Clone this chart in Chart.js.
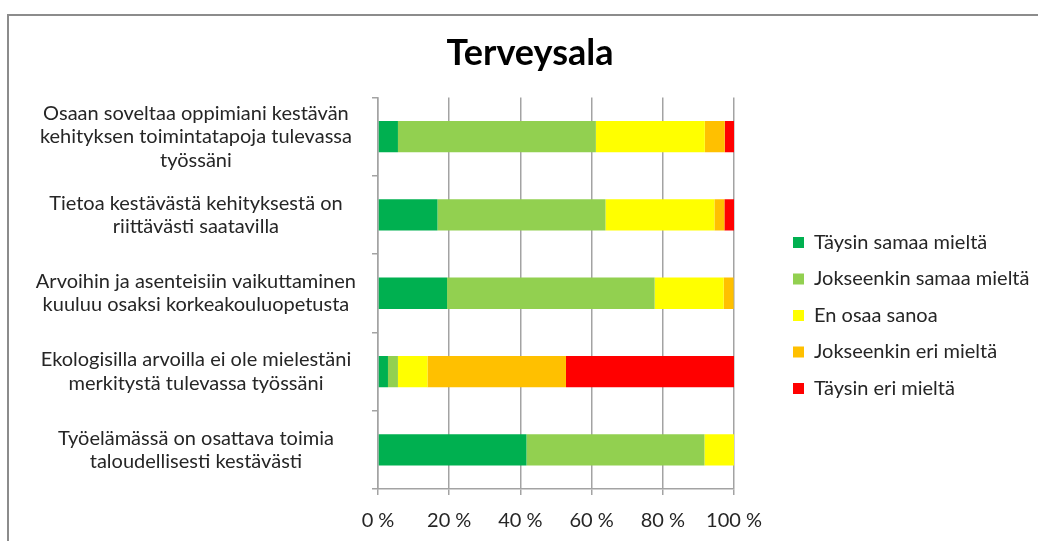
<!DOCTYPE html>
<html><head><meta charset="utf-8">
<script src="https://cdn.jsdelivr.net/npm/chart.js@4"></script>
<style>
html,body{margin:0;padding:0;background:#fff;}
#wrap{position:relative;width:1038px;height:541px;overflow:hidden;}
#frame{position:absolute;left:7px;top:14px;width:1100px;height:600px;border-left:2px solid #8c8c8c;border-top:2px solid #8c8c8c;}
canvas{position:absolute;left:0;top:0;}
</style></head><body>
<div id="wrap"><div id="frame"></div><canvas id="c" width="1038" height="541"></canvas></div>
<script>
const categories = [
  ['Osaan soveltaa oppimiani kestävän', 'kehityksen toimintatapoja tulevassa', 'työssäni'],
  ['Tietoa kestävästä kehityksestä on', 'riittävästi saatavilla'],
  ['Arvoihin ja asenteisiin vaikuttaminen', 'kuuluu osaksi korkeakouluopetusta'],
  ['Ekologisilla arvoilla ei ole mielestäni', 'merkitystä tulevassa työssäni'],
  ['Työelämässä on osattava toimia', 'taloudellisesti kestävästi']
];
const seriesNames = ['Täysin samaa mieltä', 'Jokseenkin samaa mieltä', 'En osaa sanoa', 'Jokseenkin eri mieltä', 'Täysin eri mieltä'];
const taysinSamaa     = [5.6, 16.7, 19.4, 2.8, 41.7];
const jokseenkinSamaa = [55.6, 47.2, 58.3, 2.8, 50.0];
const enOsaaSanoa     = [30.6, 30.6, 19.4, 8.3, 8.3];
const jokseenkinEri   = [5.6, 2.8, 2.8, 38.9, 0];
const taysinEri       = [2.8, 2.8, 0, 47.2, 0];
const xTickValues = [0, 20, 40, 60, 80, 100];
const xTickLabels = ['0 %', '20 %', '40 %', '60 %', '80 %', '100 %'];
const seriesColors = ['#00B050', '#92D050', '#FFFF00', '#FFC000', '#FF0000'];

const seriesValues = [taysinSamaa, jokseenkinSamaa, enOsaaSanoa, jokseenkinEri, taysinEri];
const gridColor = '#A3A3A3';
const textColor = '#262626';
const FONT = 'Lato';
const LEGEND_W = 261.5;

const legendWidthPlugin = {
  id: 'legendWidth',
  beforeLayout(chart) {
    const lg = chart.legend;
    if (lg && !lg._fixedW) {
      const orig = lg.fit.bind(lg);
      lg.fit = function () { orig(); this.width = LEGEND_W; };
      lg._fixedW = true;
    }
  }
};

new Chart(document.getElementById('c'), {
  type: 'bar',
  data: {
    labels: categories,
    datasets: seriesNames.map((n, i) => ({
      label: n,
      data: seriesValues[i],
      backgroundColor: seriesColors[i],
      borderWidth: 0,
      barPercentage: 0.4,
      categoryPercentage: 1.0
    }))
  },
  plugins: [legendWidthPlugin],
  options: {
    indexAxis: 'y',
    responsive: false,
    animation: false,
    layout: { padding: { left: 22, right: 0, top: 14, bottom: 0 } },
    plugins: {
      title: {
        display: true,
        text: 'Terveysala',
        color: '#000',
        font: { family: FONT, size: 36, weight: 'bold' },
        padding: { top: 18, bottom: 22.3 }
      },
      legend: {
        position: 'right',
        maxWidth: LEGEND_W,
        title: { display: true, text: '', font: { size: 10, lineHeight: 1.2 }, padding: { top: 0, bottom: 64 } },
        labels: {
          boxWidth: 11,
          boxHeight: 11,
          padding: 16.5,
          color: textColor,
          font: { family: FONT, size: 20 }
        }
      },
      tooltip: { enabled: false }
    },
    scales: {
      x: {
        stacked: true,
        min: 0,
        max: 100,
        ticks: {
          stepSize: 20,
          color: textColor,
          font: { family: FONT, size: 20 },
          padding: 14,
          callback: (v) => { const k = xTickValues.indexOf(v); return k >= 0 ? xTickLabels[k] : ''; }
        },
        grid: { color: gridColor, tickLength: 6, lineWidth: 1.5 },
        border: { color: gridColor, width: 1.5 },
        afterFit: (s) => { s.height = 52; }
      },
      y: {
        stacked: true,
        grid: { drawOnChartArea: false, offset: true, tickLength: 6, color: gridColor, lineWidth: 1.5 },
        border: { color: gridColor, width: 1.5 },
        ticks: {
          color: textColor,
          font: { family: FONT, size: 20, lineHeight: 1.175 },
          crossAlign: 'center',
          padding: 16
        },
        afterFit: (s) => { s.width = 356; }
      },
      gap: {
        type: 'linear',
        axis: 'y',
        position: 'right',
        display: true,
        grid: { display: false },
        border: { display: false },
        ticks: { display: false },
        afterFit: (s) => { s.width = 42.5; }
      }
    }
  }
});
</script>
</body></html>
